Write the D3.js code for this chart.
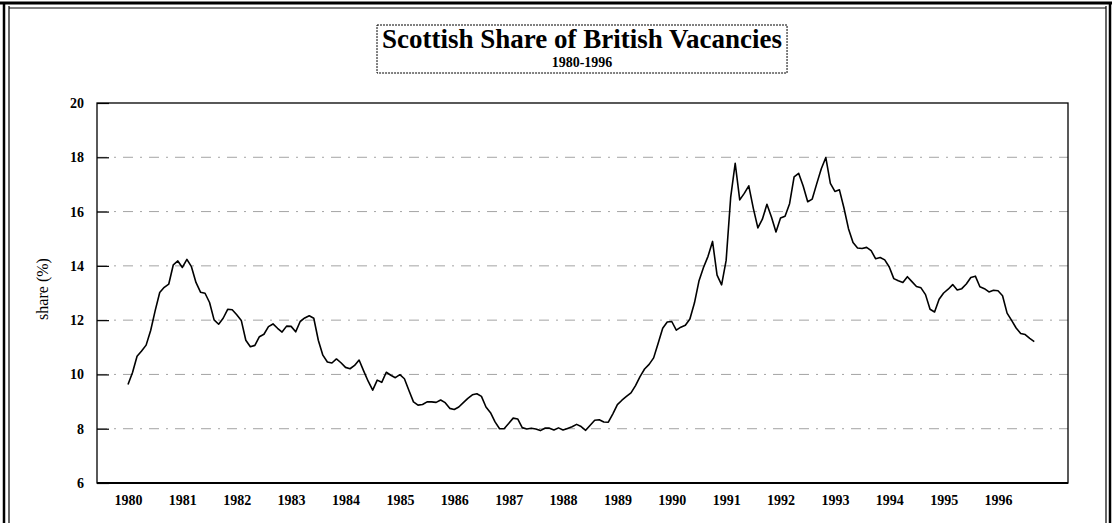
<!DOCTYPE html>
<html>
<head>
<meta charset="utf-8">
<script src="https://cdn.jsdelivr.net/npm/d3@7"></script>
<style>
  html, body { margin: 0; padding: 0; background: #fff; }
  svg { display: block; }
  text { font-family: "Liberation Serif", "Times New Roman", serif; fill: #000; }
</style>
</head>
<body>
<svg id="chart" width="1112" height="523"></svg>
<script>
// ---- data ----
const titleText = "Scottish Share of British Vacancies";
const subtitleText = "1980-1996";
const yAxisLabel = "share (%)";
const startYear = 1980; // monthly series starting January 1980
const share = [
  9.63, 10.07, 10.67, 10.86, 11.08, 11.62, 12.35, 13.02, 13.21, 13.33, 14.04, 14.18,
  13.94, 14.24, 13.97, 13.39, 13.03, 12.99, 12.65, 12.01, 11.85, 12.07, 12.40, 12.38,
  12.20, 11.99, 11.26, 11.02, 11.07, 11.39, 11.48, 11.76, 11.86, 11.70, 11.56, 11.78,
  11.77, 11.57, 11.95, 12.08, 12.16, 12.07, 11.26, 10.71, 10.46, 10.42, 10.57, 10.43,
  10.26, 10.21, 10.33, 10.53, 10.13, 9.75, 9.42, 9.79, 9.71, 10.08, 9.97, 9.88,
  9.99, 9.84, 9.41, 8.99, 8.87, 8.89, 8.99, 8.99, 8.97, 9.06, 8.96, 8.75,
  8.71, 8.80, 8.96, 9.12, 9.25, 9.29, 9.19, 8.80, 8.59, 8.25, 8.00, 8.00,
  8.19, 8.39, 8.36, 8.04, 7.99, 8.02, 7.99, 7.93, 8.02, 8.02, 7.95, 8.03,
  7.95, 8.01, 8.07, 8.16, 8.08, 7.94, 8.13, 8.31, 8.33, 8.25, 8.24, 8.55,
  8.89, 9.05, 9.19, 9.32, 9.59, 9.92, 10.20, 10.37, 10.61, 11.15, 11.70, 11.93,
  11.95, 11.63, 11.74, 11.81, 12.04, 12.63, 13.44, 13.94, 14.35, 14.90, 13.66, 13.30,
  14.20, 16.52, 17.78, 16.43, 16.67, 16.95, 16.12, 15.40, 15.72, 16.27, 15.80, 15.25,
  15.76, 15.83, 16.29, 17.28, 17.41, 16.94, 16.36, 16.46, 17.03, 17.58, 17.99, 17.04,
  16.74, 16.80, 16.13, 15.37, 14.86, 14.66, 14.64, 14.68, 14.56, 14.26, 14.31, 14.22,
  13.96, 13.53, 13.45, 13.39, 13.60, 13.42, 13.24, 13.19, 12.94, 12.40, 12.30, 12.77,
  13.00, 13.14, 13.31, 13.11, 13.16, 13.33, 13.57, 13.62, 13.23, 13.16, 13.04, 13.10,
  13.08, 12.90, 12.26, 11.99, 11.71, 11.51, 11.47, 11.33, 11.21
];
const yearTicks = [1980, 1981, 1982, 1983, 1984, 1985, 1986, 1987, 1988,
                   1989, 1990, 1991, 1992, 1993, 1994, 1995, 1996];
const yTicks = [6, 8, 10, 12, 14, 16, 18, 20];

// ---- layout ----
const plot = { left: 97, right: 1068, top: 103, bottom: 483 };
const svg = d3.select("#chart");

const x = d3.scaleLinear().domain([1979.43, 1997.287]).range([plot.left, plot.right]);
const y = d3.scaleLinear().domain([6, 20]).range([plot.bottom, plot.top]);

const series = share.map((v, i) => ({ t: startYear + i / 12, v }));

// outer page frame (double rule)
const frame = svg.append("g").attr("fill", "none").attr("stroke", "#000");
frame.append("line").attr("x1", 4).attr("x2", 4).attr("y1", 2).attr("y2", 523).attr("stroke-width", 2.5);
frame.append("line").attr("x1", 9).attr("x2", 9).attr("y1", 6).attr("y2", 523).attr("stroke-width", 1.2);
frame.append("line").attr("x1", 1106).attr("x2", 1106).attr("y1", 6).attr("y2", 523).attr("stroke-width", 1.2);
frame.append("line").attr("x1", 1110).attr("x2", 1110).attr("y1", 2).attr("y2", 523).attr("stroke-width", 2.5);
frame.append("line").attr("x1", 0).attr("x2", 1112).attr("y1", 3).attr("y2", 3).attr("stroke-width", 3);
frame.append("line").attr("x1", 9).attr("x2", 1106).attr("y1", 8).attr("y2", 8).attr("stroke-width", 1);

// gridlines (faint, broken)
svg.append("g")
  .selectAll("line")
  .data(yTicks.filter(d => d > 6 && d < 20))
  .join("line")
  .attr("x1", plot.left).attr("x2", plot.right)
  .attr("y1", d => y(d)).attr("y2", d => y(d))
  .attr("stroke", "#9a9a9a").attr("stroke-width", 0.9)
  .attr("stroke-dasharray", "10,7,2,7");

// y axis
const yAxis = svg.append("g")
  .attr("transform", `translate(${plot.left},0)`)
  .call(d3.axisLeft(y).tickValues(yTicks).tickSize(-12).tickPadding(13).tickFormat(d3.format("d")));
yAxis.select(".domain").remove();
yAxis.selectAll("line").attr("stroke", "#000").attr("stroke-width", 1.2);
yAxis.selectAll("text")
  .style("font-family", '"Liberation Serif", serif')
  .style("font-size", "14px").style("font-weight", "bold");

// x axis
const xAxis = svg.append("g")
  .attr("transform", `translate(0,${plot.bottom})`)
  .call(d3.axisBottom(x).tickValues(yearTicks).tickSize(0).tickPadding(12).tickFormat(d3.format("d")));
xAxis.select(".domain").remove();
xAxis.selectAll("text")
  .style("font-family", '"Liberation Serif", serif')
  .style("font-size", "14px").style("font-weight", "bold");

// plot frame
svg.append("rect")
  .attr("x", plot.left).attr("y", plot.top)
  .attr("width", plot.right - plot.left).attr("height", plot.bottom - plot.top)
  .attr("fill", "none").attr("stroke", "#000").attr("stroke-width", 1.3);
svg.append("line")
  .attr("x1", plot.left).attr("x2", plot.right)
  .attr("y1", plot.bottom).attr("y2", plot.bottom)
  .attr("stroke", "#000").attr("stroke-width", 2);

// data line
svg.append("path")
  .datum(series)
  .attr("fill", "none").attr("stroke", "#000").attr("stroke-width", 1.6)
  .attr("stroke-linejoin", "round")
  .attr("d", d3.line().x(d => x(d.t)).y(d => y(d.v)));

// y axis title
svg.append("text")
  .attr("transform", "translate(48,289) rotate(-90)")
  .attr("text-anchor", "middle")
  .style("font-size", "16px")
  .text(yAxisLabel);

// title box
const tg = svg.append("g");
const t1 = tg.append("text")
  .attr("x", 382).attr("y", 48)
  .style("font-size", "27px").style("font-weight", "bold")
  .text(titleText);
const bb = t1.node().getBBox();
const cx = bb.x + bb.width / 2;
tg.append("text")
  .attr("x", cx).attr("y", 67).attr("text-anchor", "middle")
  .style("font-size", "14px").style("font-weight", "bold")
  .text(subtitleText);
tg.insert("rect", "text")
  .attr("x", 377).attr("y", 25)
  .attr("width", bb.width + 10).attr("height", 48)
  .attr("fill", "#fff").attr("stroke", "#000").attr("stroke-width", 1)
  .attr("stroke-dasharray", "2,1");
</script>
</body>
</html>
